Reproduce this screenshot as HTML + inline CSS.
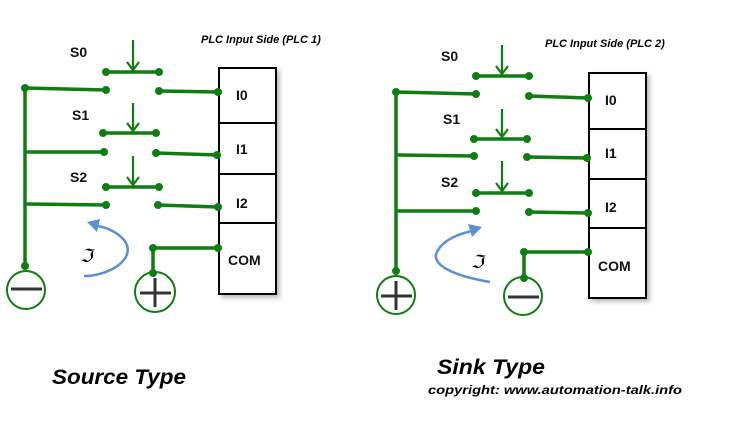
<!DOCTYPE html>
<html><head><meta charset="utf-8"><style>
html,body{margin:0;padding:0;background:#fff;}
svg{display:block;}
.t{font-family:"Liberation Sans",sans-serif;font-weight:bold;font-size:14px;fill:#111;}
.s{font-family:"Liberation Sans",sans-serif;font-weight:bold;font-style:italic;fill:#000;}
</style></head><body>
<svg width="733" height="429" viewBox="0 0 733 429" xmlns="http://www.w3.org/2000/svg">
<defs><filter id="sh" x="-20%" y="-10%" width="150%" height="130%"><feDropShadow dx="3" dy="3" stdDeviation="2" flood-opacity="0.25"/></filter></defs>
<g fill="#fff" stroke="#000" stroke-width="2" filter="url(#sh)">
<rect x="219" y="68" width="57" height="55"/><rect x="219" y="123" width="57" height="51"/><rect x="219" y="174" width="57" height="49"/><rect x="219" y="223" width="57" height="71"/>
<rect x="589" y="73" width="57" height="56"/><rect x="589" y="129" width="57" height="50"/><rect x="589" y="179" width="57" height="49"/><rect x="589" y="228" width="57" height="70"/>
</g>
<g stroke="#0f7d12" stroke-width="3.5" fill="none" stroke-linecap="round">
<line x1="25" y1="88" x2="25" y2="268"/>
<line x1="25" y1="88" x2="106" y2="90"/><line x1="159" y1="91" x2="218" y2="92"/>
<line x1="106" y1="72" x2="159" y2="72"/>
<line x1="28" y1="152" x2="104" y2="152"/><line x1="156" y1="153" x2="218" y2="155"/>
<line x1="103" y1="133" x2="156" y2="133"/>
<line x1="28" y1="204" x2="106" y2="205"/><line x1="158" y1="205" x2="218" y2="207"/>
<line x1="106" y1="187" x2="159" y2="187"/>
<polyline points="218,248 153,248 153,273"/>
<line x1="396" y1="92" x2="396" y2="272"/>
<line x1="396" y1="92" x2="476" y2="94"/><line x1="529" y1="96" x2="588" y2="98"/>
<line x1="476" y1="76" x2="529" y2="76"/>
<line x1="398" y1="155" x2="474" y2="156"/><line x1="527" y1="157" x2="587" y2="158"/>
<line x1="474" y1="139" x2="527" y2="139"/>
<line x1="398" y1="211" x2="476" y2="211"/><line x1="529" y1="212" x2="588" y2="213"/>
<line x1="476" y1="193" x2="529" y2="193"/>
<polyline points="588,252 524,252 524,278"/>
</g>
<g stroke="#0f7d12" stroke-width="2.2" fill="none">
<line x1="133" y1="40" x2="133" y2="70"/><polyline points="127,62 133,70 139,62"/>
<line x1="133" y1="103" x2="133" y2="131"/><polyline points="127,123 133,131 139,123"/>
<line x1="133" y1="156" x2="133" y2="185"/><polyline points="127,177 133,185 139,177"/>
<line x1="502" y1="45" x2="502" y2="74"/><polyline points="496,66 502,74 508,66"/>
<line x1="502" y1="109" x2="502" y2="137"/><polyline points="496,129 502,137 508,129"/>
<line x1="502" y1="161" x2="502" y2="191"/><polyline points="496,183 502,191 508,183"/>
<circle cx="26" cy="290" r="19" stroke-width="2"/>
<circle cx="155" cy="292" r="20" stroke-width="2"/>
<circle cx="396" cy="295" r="19" stroke-width="2"/>
<circle cx="523" cy="296" r="19" stroke-width="2"/>
</g>
<g fill="#0f7d12">
<circle cx="25" cy="88" r="4"/><circle cx="25" cy="266" r="4"/>
<circle cx="106" cy="72" r="4"/><circle cx="159" cy="72" r="4"/><circle cx="106" cy="90" r="4"/><circle cx="159" cy="91" r="4"/><circle cx="218" cy="92" r="4"/>
<circle cx="103" cy="133" r="4"/><circle cx="156" cy="133" r="4"/><circle cx="104" cy="152" r="4"/><circle cx="156" cy="153" r="4"/><circle cx="217" cy="155" r="4"/>
<circle cx="106" cy="187" r="4"/><circle cx="159" cy="187" r="4"/><circle cx="106" cy="205" r="4"/><circle cx="158" cy="205" r="4"/><circle cx="218" cy="207" r="4"/>
<circle cx="153" cy="248" r="4"/><circle cx="218" cy="248" r="4"/><circle cx="153" cy="273" r="4"/>
<circle cx="396" cy="92" r="4"/><circle cx="396" cy="271" r="4"/>
<circle cx="476" cy="76" r="4"/><circle cx="529" cy="76" r="4"/><circle cx="476" cy="94" r="4"/><circle cx="529" cy="96" r="4"/><circle cx="588" cy="98" r="4"/>
<circle cx="474" cy="139" r="4"/><circle cx="527" cy="139" r="4"/><circle cx="474" cy="156" r="4"/><circle cx="527" cy="157" r="4"/><circle cx="587" cy="158" r="4"/>
<circle cx="476" cy="193" r="4"/><circle cx="529" cy="193" r="4"/><circle cx="476" cy="211" r="4"/><circle cx="529" cy="212" r="4"/><circle cx="588" cy="213" r="4"/>
<circle cx="524" cy="252" r="4"/><circle cx="588" cy="252" r="4"/><circle cx="524" cy="278" r="4"/>
</g>
<g stroke="#333" stroke-width="3">
<line x1="11" y1="289" x2="42" y2="289"/>
<line x1="140" y1="293" x2="171" y2="293"/><line x1="155" y1="278" x2="155" y2="307"/>
<line x1="381" y1="296" x2="412" y2="296"/><line x1="396" y1="281" x2="396" y2="310"/>
<line x1="508" y1="297" x2="539" y2="297"/>
</g>
<g class="t">
<text x="236" y="100">I0</text><text x="236" y="154">I1</text><text x="236" y="208">I2</text><text x="228" y="265">COM</text>
<text x="605" y="105">I0</text><text x="605" y="158">I1</text><text x="605" y="212">I2</text><text x="598" y="271">COM</text>
<text x="70" y="57">S0</text><text x="72" y="120">S1</text><text x="70" y="182">S2</text>
<text x="441" y="61">S0</text><text x="443" y="124">S1</text><text x="441" y="187">S2</text>
</g>
<g stroke="#5b8fd6" stroke-width="2.5" fill="none">
<path d="M84,276 C110,276 138,258 124,240 C117,232 108,228 98,226"/>
<path d="M490,282 C455,276 428,265 438,250 C444,240 458,234 472,231"/>
</g>
<polygon points="87,222 100,219 97,232" fill="#5b8fd6"/>
<polygon points="482,227 468,224 472,237" fill="#5b8fd6"/>
<text x="80" y="262" font-family="'DejaVu Serif',serif" font-size="18" font-style="italic">ℑ</text>
<text x="471" y="268" font-family="'DejaVu Serif',serif" font-size="18" font-style="italic">ℑ</text>
<text class="s" x="201" y="43" font-size="11">PLC Input Side (PLC 1)</text>
<text class="s" x="545" y="47" font-size="11">PLC Input Side (PLC 2)</text>
<text class="s" x="52" y="384" font-size="21" textLength="134" lengthAdjust="spacingAndGlyphs">Source Type</text>
<text class="s" x="437" y="374" font-size="21" textLength="108" lengthAdjust="spacingAndGlyphs">Sink Type</text>
<text class="s" x="428" y="394" font-size="12" textLength="254" lengthAdjust="spacingAndGlyphs">copyright: www.automation-talk.info</text>
</svg>
</body></html>
